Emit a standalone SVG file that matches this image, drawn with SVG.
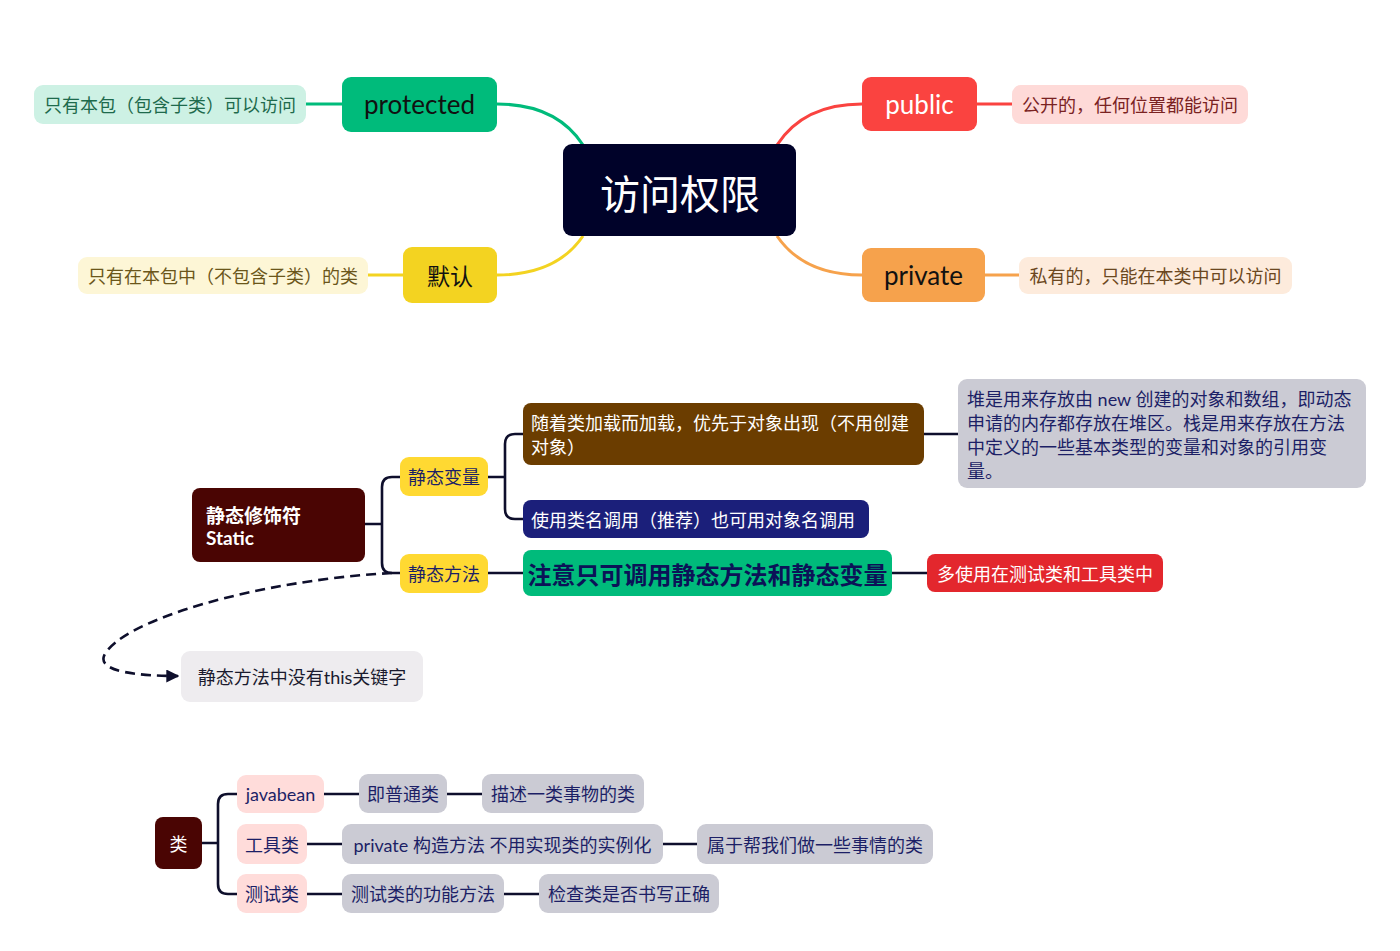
<svg xmlns="http://www.w3.org/2000/svg" width="1400" height="951" viewBox="0 0 1400 951">
<style>
text{font-family:"Lato","Noto Sans CJK SC",sans-serif;}
.t18{font-size:18px;dominant-baseline:central;}
.h{font-size:26px;text-anchor:middle;dominant-baseline:central;}
.b{fill:none;stroke:#0e0f2c;stroke-width:2.6;}
.grey{fill:#cbcbd4;}
.navy{fill:#1c1f66;}
</style>
<defs>
<marker id="ah" viewBox="0 0 10 10" refX="9" refY="5" markerWidth="5" markerHeight="5" orient="auto"><path d="M0,0 L10,5 L0,10 z" fill="#0e0f2c"/></marker>
</defs>
<rect width="1400" height="951" fill="#ffffff"/>
<g id="connectors">
<path d="M497,104 C545,104 570,125 583,145" fill="none" stroke="#00bb7b" stroke-width="3"/>
<line x1="306" y1="104" x2="342" y2="104" stroke="#00bb7b" stroke-width="3"/>
<path d="M497,275 C545,275 570,255 583,236" fill="none" stroke="#f3d321" stroke-width="3"/>
<line x1="368" y1="275" x2="403" y2="275" stroke="#f3d321" stroke-width="3"/>
<path d="M777,145 C790,125 815,104 862,104" fill="none" stroke="#fa4340" stroke-width="3"/>
<line x1="977" y1="104" x2="1012" y2="104" stroke="#fa4340" stroke-width="3"/>
<path d="M777,236 C790,255 815,275 862,275" fill="none" stroke="#f6a24c" stroke-width="3"/>
<line x1="985" y1="275" x2="1019" y2="275" stroke="#f6a24c" stroke-width="3"/>
<path class="b" d="M365,524 H382 M400,477 H392 Q382,477 382,487 V563 Q382,573 392,573 H400"/>
<path class="b" d="M488,477 H505 M523,434 H515 Q505,434 505,444 V509 Q505,519 515,519 H523"/>
<line class="b" x1="924" y1="434" x2="958" y2="434"/>
<line class="b" x1="488" y1="573" x2="523" y2="573"/>
<line class="b" x1="892" y1="573" x2="927" y2="573"/>
<path d="M392,573 C260,580 120,620 104,656 C98,672 140,676 178,676" fill="none" stroke="#0e0f2c" stroke-width="2.6" stroke-dasharray="10,6" marker-end="url(#ah)"/>
<path class="b" d="M202,843 H218 M237,794 H228 Q218,794 218,804 V884 Q218,894 228,894 H237"/>
<line class="b" x1="324" y1="794" x2="359" y2="794"/>
<line class="b" x1="447" y1="794" x2="482" y2="794"/>
<line class="b" x1="307" y1="844" x2="342" y2="844"/>
<line class="b" x1="663" y1="844" x2="697" y2="844"/>
<line class="b" x1="307" y1="894" x2="342" y2="894"/>
<line class="b" x1="504" y1="894" x2="539" y2="894"/>
</g>
<g id="center"><rect x="563" y="144" width="233" height="92" rx="9" fill="#000229"/><text x="680" y="192" font-size="40" fill="#ffffff" text-anchor="middle" dominant-baseline="central" style="font-family:'Noto Sans CJK SC',sans-serif">访问权限</text></g>
<g id="protected"><rect x="342" y="77" width="155" height="55" rx="9" fill="#00bb7b"/><text class="h" x="419.5" y="104" fill="#111">protected</text></g>
<g id="protected-desc"><rect x="34" y="85" width="272" height="39" rx="9" fill="#cdf1e4"/><text class="t18" x="170" y="105" text-anchor="middle" fill="#1e6a4c">只有本包（包含子类）可以访问</text></g>
<g id="default"><rect x="403" y="247" width="94" height="56" rx="9" fill="#f3d321"/><text x="450" y="275.5" font-size="23" text-anchor="middle" dominant-baseline="central" fill="#111">默认</text></g>
<g id="default-desc"><rect x="78" y="257" width="290" height="37" rx="9" fill="#fdf6d6"/><text class="t18" x="223" y="276" text-anchor="middle" fill="#6b561a">只有在本包中（不包含子类）的类</text></g>
<g id="public"><rect x="862" y="77" width="115" height="54" rx="9" fill="#fa4340"/><text class="h" x="919.5" y="103.5" fill="#ffffff">public</text></g>
<g id="public-desc"><rect x="1012" y="85" width="236" height="39" rx="9" fill="#fedad8"/><text class="t18" x="1130" y="105" text-anchor="middle" fill="#7a2222">公开的，任何位置都能访问</text></g>
<g id="private"><rect x="862" y="248" width="123" height="54" rx="9" fill="#f6a24c"/><text class="h" x="923.5" y="274.5" fill="#111">private</text></g>
<g id="private-desc"><rect x="1019" y="257" width="273" height="37" rx="9" fill="#fdebdc"/><text class="t18" x="1155.5" y="276" text-anchor="middle" fill="#6b4720">私有的，只能在本类中可以访问</text></g>
<g id="static"><rect x="192" y="488" width="173" height="74" rx="8" fill="#4a0503"/><text x="206" y="515" font-size="19" font-weight="bold" fill="#ffffff" dominant-baseline="central">静态修饰符</text><text x="206" y="537" font-size="19" font-weight="bold" fill="#ffffff" dominant-baseline="central">Static</text></g>
<g id="static-var"><rect x="400" y="457" width="88" height="39" rx="9" fill="#ffd932"/><text class="t18" x="444" y="477" text-anchor="middle" fill="#1c1f66">静态变量</text></g>
<g id="static-method"><rect x="400" y="554" width="88" height="39" rx="9" fill="#ffd932"/><text class="t18" x="444" y="574" text-anchor="middle" fill="#1c1f66">静态方法</text></g>
<g id="load"><rect x="523" y="403" width="401" height="62" rx="8" fill="#6b3d00"/><text class="t18" x="531" y="423" fill="#ffffff">随着类加载而加载，优先于对象出现（不用创建</text><text class="t18" x="531" y="447" fill="#ffffff">对象）</text></g>
<g id="heap"><rect x="958" y="379" width="408" height="109" rx="9" class="grey"/><text class="t18 navy" x="967" y="399">堆是用来存放由 new 创建的对象和数组，即动态</text><text class="t18 navy" x="967" y="423">申请的内存都存放在堆区。栈是用来存放在方法</text><text class="t18 navy" x="967" y="447">中定义的一些基本类型的变量和对象的引用变</text><text class="t18 navy" x="967" y="471">量。</text></g>
<g id="call"><rect x="523" y="500" width="346" height="38" rx="8" fill="#1b1f7a"/><text class="t18" x="531" y="520" fill="#ffffff">使用类名调用（推荐）也可用对象名调用</text></g>
<g id="note"><rect x="523" y="550" width="369" height="46" rx="8" fill="#00bb7b"/><text x="707.5" y="574" font-size="24" font-weight="bold" text-anchor="middle" dominant-baseline="central" fill="#0b1257">注意只可调用静态方法和静态变量</text></g>
<g id="usage"><rect x="927" y="554" width="236" height="38" rx="8" fill="#e3272d"/><text class="t18" x="1045" y="574" text-anchor="middle" fill="#ffffff">多使用在测试类和工具类中</text></g>
<g id="this"><rect x="181" y="651" width="242" height="51" rx="9" fill="#eeecef"/><text class="t18" x="302" y="677" text-anchor="middle" fill="#1a1a2e">静态方法中没有this关键字</text></g>
<g id="class"><rect x="155" y="817" width="47" height="52" rx="8" fill="#4a0503"/><text class="t18" x="178.5" y="844" text-anchor="middle" fill="#ffffff">类</text></g>
<g id="javabean"><rect x="237" y="775" width="87" height="38" rx="9" fill="#ffdcda"/><text class="t18 navy" x="280.5" y="794" text-anchor="middle">javabean</text></g>
<g id="tool"><rect x="237" y="824" width="70" height="40" rx="9" fill="#ffdcda"/><text class="t18 navy" x="272" y="844.5" text-anchor="middle">工具类</text></g>
<g id="test"><rect x="237" y="874" width="70" height="39" rx="9" fill="#ffdcda"/><text class="t18 navy" x="272" y="894" text-anchor="middle">测试类</text></g>
<g id="normal"><rect x="359" y="774" width="88" height="39" rx="9" class="grey"/><text class="t18 navy" x="403" y="794" text-anchor="middle">即普通类</text></g>
<g id="describe"><rect x="482" y="774" width="162" height="39" rx="9" class="grey"/><text class="t18 navy" x="563" y="794" text-anchor="middle">描述一类事物的类</text></g>
<g id="privctor"><rect x="342" y="824" width="321" height="40" rx="9" class="grey"/><text class="t18 navy" x="502.5" y="844.5" text-anchor="middle">private 构造方法 不用实现类的实例化</text></g>
<g id="help"><rect x="697" y="824" width="236" height="40" rx="9" class="grey"/><text class="t18 navy" x="815" y="844.5" text-anchor="middle">属于帮我们做一些事情的类</text></g>
<g id="testfn"><rect x="342" y="874" width="162" height="39" rx="9" class="grey"/><text class="t18 navy" x="423" y="894" text-anchor="middle">测试类的功能方法</text></g>
<g id="check"><rect x="539" y="874" width="180" height="39" rx="9" class="grey"/><text class="t18 navy" x="629" y="894" text-anchor="middle">检查类是否书写正确</text></g>
</svg>
